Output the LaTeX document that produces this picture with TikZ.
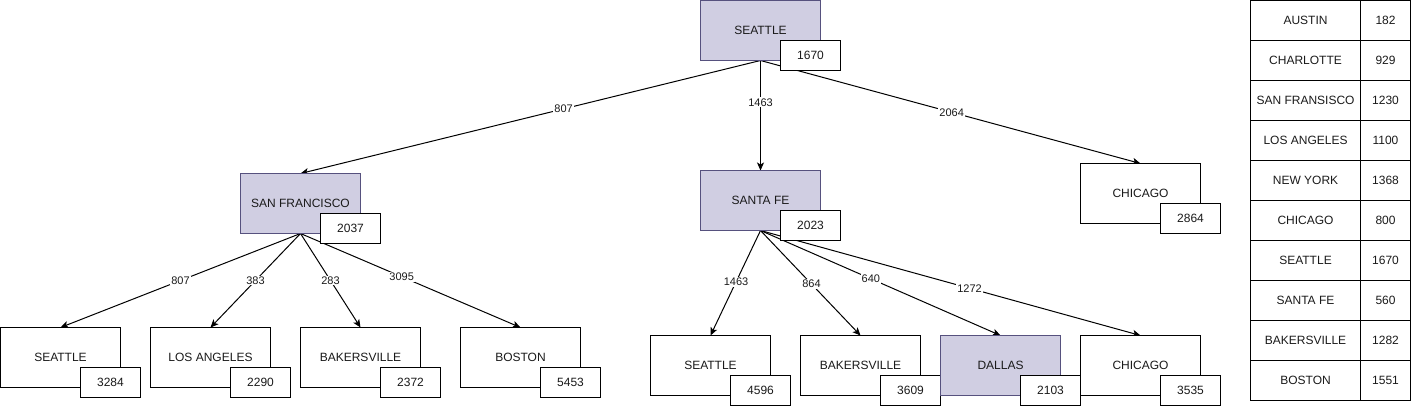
\documentclass[tikz,border=0pt]{standalone}
\usepackage{fontspec}
\setmainfont{Liberation Sans}
\usetikzlibrary{arrows.meta,backgrounds}
\definecolor{lav}{HTML}{D0CEE2}
\definecolor{lavd}{HTML}{56517E}
\definecolor{txt}{HTML}{1A1A1A}
\begin{document}
\begin{tikzpicture}[x=1pt,y=-1pt,
  mainbox/.style={draw=black, fill=white, minimum width=120pt, minimum height=60pt,
    inner sep=0pt, outer sep=0pt, line width=1pt, text=txt, font=\fontsize{12}{14}\selectfont},
  hl/.style={fill=lav, draw=lavd},
  valbox/.style={draw=black, fill=white, minimum width=60pt, minimum height=30pt,
    inner sep=0pt, outer sep=0pt, line width=1pt, text=txt, font=\fontsize{12}{14}\selectfont},
  namecell/.style={draw=black, minimum width=110pt, minimum height=40pt,
    inner sep=0pt, outer sep=0pt, line width=1pt, text=txt, font=\fontsize{12}{14}\selectfont},
  numcell/.style={draw=black, minimum width=50pt, minimum height=40pt,
    inner sep=0pt, outer sep=0pt, line width=1pt, text=txt, font=\fontsize{12}{14}\selectfont},
  edge/.style={line width=1pt, -{Stealth[length=8pt,width=7pt,inset=2pt]}},
  lbl/.style={fill=white, inner sep=1pt, text=txt, font=\fontsize{11}{13}\selectfont}
]
\useasboundingbox (-0.5,-0.5) rectangle (1411.5,405.5);

% level 0
\node[mainbox,hl] (root) at (760,30) {SEATTLE};
\node[valbox] (rootv) at (810,55) {1670};

% level 1
\node[mainbox,hl] (sf) at (300,203) {SAN FRANCISCO};
\node[valbox] (sfv) at (350,228) {2037};
\node[mainbox,hl] (sa) at (760,200) {SANTA FE};
\node[valbox] (sav) at (810,225) {2023};
\node[mainbox] (ch) at (1140,193) {CHICAGO};
\node[valbox] (chv) at (1190,218) {2864};

% level 2, left
\node[mainbox] (l1) at (60,357) {SEATTLE};
\node[valbox] (l1v) at (110,382) {3284};
\node[mainbox] (l2) at (210,357) {LOS ANGELES};
\node[valbox] (l2v) at (260,382) {2290};
\node[mainbox] (l3) at (360,357) {BAKERSVILLE};
\node[valbox] (l3v) at (410,382) {2372};
\node[mainbox] (l4) at (520,357) {BOSTON};
\node[valbox] (l4v) at (570,382) {5453};

% level 2, right
\node[mainbox] (r1) at (710,365) {SEATTLE};
\node[valbox] (r1v) at (760,390) {4596};
\node[mainbox] (r2) at (860,365) {BAKERSVILLE};
\node[valbox] (r2v) at (910,390) {3609};
\node[mainbox,hl] (r3) at (1000,365) {DALLAS};
\node[valbox] (r3v) at (1050,390) {2103};
\node[mainbox] (r4) at (1140,365) {CHICAGO};
\node[valbox] (r4v) at (1190,390) {3535};

% edges behind boxes
\begin{pgfonlayer}{background}
\draw[edge] (root.south) -- node[lbl,pos=0.428] {807} (sf.north);
\draw[edge] (root.south) -- node[lbl,pos=0.38] {1463} (sa.north);
\draw[edge] (root.south) -- node[lbl,pos=0.503] {2064} (ch.north);
\draw[edge] (sf.south) -- node[lbl,pos=0.5] {807} (l1.north);
\draw[edge] (sf.south) -- node[lbl,pos=0.5] {383} (l2.north);
\draw[edge] (sf.south) -- node[lbl,pos=0.5] {283} (l3.north);
\draw[edge] (sf.south) -- node[lbl,pos=0.46] {3095} (l4.north);
\draw[edge] (sa.south) -- node[lbl,pos=0.49] {1463} (r1.north);
\draw[edge] (sa.south) -- node[lbl,pos=0.51] {864} (r2.north);
\draw[edge] (sa.south) -- node[lbl,pos=0.46] {640} (r3.north);
\draw[edge] (sa.south) -- node[lbl,pos=0.55] {1272} (r4.north);
\end{pgfonlayer}

% table
\foreach \nm/\vl [count=\i from 0] in {AUSTIN/182, CHARLOTTE/929, SAN FRANSISCO/1230,
  LOS ANGELES/1100, NEW YORK/1368, CHICAGO/800, SEATTLE/1670, SANTA FE/560,
  BAKERSVILLE/1282, BOSTON/1551}{
  \node[namecell] (tn\i) at (1305,20+40*\i) {\nm};
  \node[numcell] (tv\i) at (1385,20+40*\i) {\vl};
}
\end{tikzpicture}
\end{document}
